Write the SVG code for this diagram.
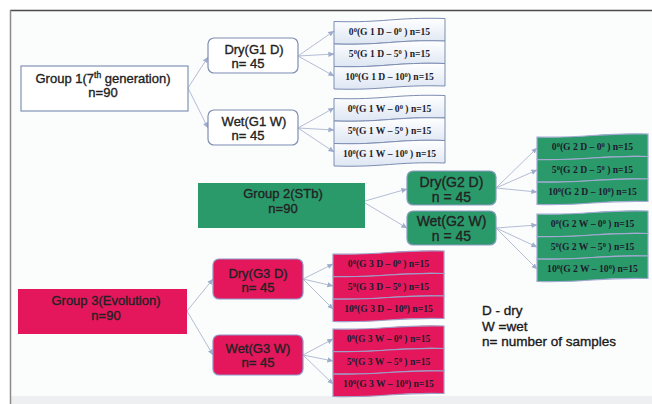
<svg xmlns="http://www.w3.org/2000/svg" width="652" height="404" viewBox="0 0 652 404">
<defs>
<marker id="ah" viewBox="0 0 8 8" refX="7.5" refY="4" markerWidth="6" markerHeight="6" orient="auto" markerUnits="userSpaceOnUse">
<path d="M0,0.5 L8,4 L0,7.5 Z" fill="#9fadcc"/>
</marker>
<linearGradient id="gb" x1="0" y1="0" x2="0" y2="1">
<stop offset="0" stop-color="#ffffff"/>
<stop offset="1" stop-color="#dde6f3"/>
</linearGradient>
<path id="row" d="M0,3 C50,4.5 61,-1.5 111,0 L111,22.5 C61,21 50,27 0,25.5 Z"/>
<style>
.t{font-family:"Liberation Sans",Arial,sans-serif;fill:#222;stroke:#222;stroke-width:0.35;text-anchor:middle;font-size:13px}
.b{font-size:14px}
.s{font-family:"Liberation Serif","Times New Roman",serif;font-weight:bold;font-size:9.6px;fill:#1c1c2c;text-anchor:middle}
.lg{font-family:"Liberation Sans",Arial,sans-serif;fill:#1a1a1a;stroke:#1a1a1a;stroke-width:0.35;font-size:13.5px}
.c{fill:none;stroke:#b3bdd6;stroke-width:1;marker-end:url(#ah)}
.rb{fill:url(#gb);stroke:#7d8db2;stroke-width:1}
.rg{fill:#2b9a6b;stroke:#a3a9d2;stroke-width:1.2}
.rp{fill:#e5175c;stroke:#a09cc6;stroke-width:1.2}
</style>
</defs>
<rect x="0" y="0" width="652" height="404" fill="#ffffff"/>
<rect x="11" y="11" width="641" height="387" fill="#fbfcfc"/>
<rect x="11" y="396" width="641" height="8" fill="#eeeff0"/>
<line x1="10" y1="10.5" x2="652" y2="10.5" stroke="#4a4a4a" stroke-width="1.5"/>
<line x1="10.5" y1="10" x2="10.5" y2="404" stroke="#8a8a8a" stroke-width="1.5"/>

<g id="connectors">
<path class="c" d="M188,88 L208,57"/>
<path class="c" d="M188,88 L208,128"/>
<path class="c" d="M298,56 L334,31"/>
<path class="c" d="M298,56 L334,54"/>
<path class="c" d="M298,56 L334,76"/>
<path class="c" d="M298,128 L334,108"/>
<path class="c" d="M298,128 L334,130"/>
<path class="c" d="M298,128 L334,152"/>
<path class="c" d="M365,201 L407,189"/>
<path class="c" d="M365,203 L407,228"/>
<path class="c" d="M496,188 L537,148"/>
<path class="c" d="M496,188 L537,170"/>
<path class="c" d="M496,188 L537,192"/>
<path class="c" d="M496,228 L537,225"/>
<path class="c" d="M496,228 L537,247"/>
<path class="c" d="M496,228 L537,269"/>
<path class="c" d="M187,311 L213,279"/>
<path class="c" d="M187,311 L213,355"/>
<path class="c" d="M303,279 L333,264"/>
<path class="c" d="M303,279 L333,286"/>
<path class="c" d="M303,279 L333,309"/>
<path class="c" d="M303,355 L333,339"/>
<path class="c" d="M303,355 L333,361"/>
<path class="c" d="M303,355 L333,384"/>
</g>

<g id="group1">
<rect x="21" y="66" width="167" height="45" fill="#ffffff" stroke="#8393b6" stroke-width="1.2"/>
<text class="t" x="103" y="82.5">Group 1(7<tspan font-size="8.5" dy="-5">th</tspan><tspan dy="5"> generation)</tspan></text>
<text class="t" x="103" y="97">n=90</text>
</g>
<g id="dry-g1">
<rect x="208" y="38" width="90" height="35" rx="6" fill="#ffffff" stroke="#7d8db2" stroke-width="1.2"/>
<text class="t" x="254" y="53.5">Dry(G1 D)</text>
<text class="t" x="248" y="68">n= 45</text>
</g>
<g id="wet-g1">
<rect x="208" y="110" width="90" height="35" rx="6" fill="#ffffff" stroke="#7d8db2" stroke-width="1.2"/>
<text class="t" x="254" y="125.5">Wet(G1 W)</text>
<text class="t" x="248" y="140">n= 45</text>
</g>
<g id="g1d-sub">
<use href="#row" class="rb" transform="translate(334,18.5)"/>
<use href="#row" class="rb" transform="translate(334,41)"/>
<use href="#row" class="rb" transform="translate(334,63.5)"/>
<text class="s" x="389.5" y="34.5">0<tspan font-size="6.5" dy="-3">0</tspan><tspan dy="3">(G 1 D – 0</tspan><tspan font-size="6.5" dy="-3">0</tspan><tspan dy="3"> ) n=15</tspan></text>
<text class="s" x="389.5" y="57">5<tspan font-size="6.5" dy="-3">0</tspan><tspan dy="3">(G 1 D – 5</tspan><tspan font-size="6.5" dy="-3">0</tspan><tspan dy="3"> ) n=15</tspan></text>
<text class="s" x="389.5" y="79.5">10<tspan font-size="6.5" dy="-3">0</tspan><tspan dy="3">(G 1 D – 10</tspan><tspan font-size="6.5" dy="-3">0</tspan><tspan dy="3">) n=15</tspan></text>
</g>
<g id="g1w-sub">
<use href="#row" class="rb" transform="translate(334,95.5)"/>
<use href="#row" class="rb" transform="translate(334,118)"/>
<use href="#row" class="rb" transform="translate(334,140.5)"/>
<text class="s" x="389.5" y="111.5">0<tspan font-size="6.5" dy="-3">0</tspan><tspan dy="3">(G 1 W – 0</tspan><tspan font-size="6.5" dy="-3">0</tspan><tspan dy="3"> ) n=15</tspan></text>
<text class="s" x="389.5" y="134">5<tspan font-size="6.5" dy="-3">0</tspan><tspan dy="3">(G 1 W – 5</tspan><tspan font-size="6.5" dy="-3">0</tspan><tspan dy="3"> ) n=15</tspan></text>
<text class="s" x="389.5" y="156.5">10<tspan font-size="6.5" dy="-3">0</tspan><tspan dy="3">(G 1 W – 10</tspan><tspan font-size="6.5" dy="-3">0</tspan><tspan dy="3"> ) n=15</tspan></text>
</g>

<g id="group2">
<rect x="198" y="183" width="167" height="45" fill="#2b9a6b"/>
<text class="t" x="283" y="198">Group 2(STb)</text>
<text class="t" x="283" y="213">n=90</text>
</g>
<g id="dry-g2">
<rect x="407" y="171" width="89" height="34" rx="6" fill="#2b9a6b" stroke="#8f9ac4" stroke-width="1.2"/>
<text class="t b" x="451.5" y="186.5">Dry(G2 D)</text>
<text class="t b" x="451.5" y="202">n = 45</text>
</g>
<g id="wet-g2">
<rect x="407" y="211" width="89" height="34" rx="6" fill="#2b9a6b" stroke="#8f9ac4" stroke-width="1.2"/>
<text class="t b" x="451.5" y="225.5">Wet(G2 W)</text>
<text class="t b" x="451.5" y="241">n = 45</text>
</g>
<g id="g2d-sub">
<use href="#row" class="rg" transform="translate(537,134)"/>
<use href="#row" class="rg" transform="translate(537,156.5)"/>
<use href="#row" class="rg" transform="translate(537,179)"/>
<text class="s" x="592.5" y="150">0<tspan font-size="6.5" dy="-3">0</tspan><tspan dy="3">(G 2 D – 0</tspan><tspan font-size="6.5" dy="-3">0</tspan><tspan dy="3"> ) n=15</tspan></text>
<text class="s" x="592.5" y="172.5">5<tspan font-size="6.5" dy="-3">0</tspan><tspan dy="3">(G 2 D – 5</tspan><tspan font-size="6.5" dy="-3">0</tspan><tspan dy="3"> ) n=15</tspan></text>
<text class="s" x="592.5" y="195">10<tspan font-size="6.5" dy="-3">0</tspan><tspan dy="3">(G 2 D – 10</tspan><tspan font-size="6.5" dy="-3">0</tspan><tspan dy="3">) n=15</tspan></text>
</g>
<g id="g2w-sub">
<use href="#row" class="rg" transform="translate(537,211)"/>
<use href="#row" class="rg" transform="translate(537,233.5)"/>
<use href="#row" class="rg" transform="translate(537,256)"/>
<text class="s" x="592.5" y="227">0<tspan font-size="6.5" dy="-3">0</tspan><tspan dy="3">(G 2 W – 0</tspan><tspan font-size="6.5" dy="-3">0</tspan><tspan dy="3"> ) n=15</tspan></text>
<text class="s" x="592.5" y="249.5">5<tspan font-size="6.5" dy="-3">0</tspan><tspan dy="3">(G 2 W – 5</tspan><tspan font-size="6.5" dy="-3">0</tspan><tspan dy="3"> ) n=15</tspan></text>
<text class="s" x="592.5" y="272">10<tspan font-size="6.5" dy="-3">0</tspan><tspan dy="3">(G 2 W – 10</tspan><tspan font-size="6.5" dy="-3">0</tspan><tspan dy="3">) n=15</tspan></text>
</g>

<g id="group3">
<rect x="18" y="289" width="169" height="45" fill="#e5175c"/>
<text class="t" x="106" y="305">Group 3(Evolution)</text>
<text class="t" x="106" y="320">n=90</text>
</g>
<g id="dry-g3">
<rect x="213" y="259" width="90" height="40" rx="6" fill="#e5175c" stroke="#8f96c6" stroke-width="1.2"/>
<text class="t" x="258" y="277.5">Dry(G3 D)</text>
<text class="t" x="258" y="292">n= 45</text>
</g>
<g id="wet-g3">
<rect x="213" y="335" width="90" height="40" rx="6" fill="#e5175c" stroke="#8f96c6" stroke-width="1.2"/>
<text class="t" x="258" y="352.5">Wet(G3 W)</text>
<text class="t" x="258" y="367">n= 45</text>
</g>
<g id="g3d-sub">
<use href="#row" class="rp" transform="translate(333,251)"/>
<use href="#row" class="rp" transform="translate(333,273.5)"/>
<use href="#row" class="rp" transform="translate(333,296)"/>
<text class="s" x="388.5" y="267">0<tspan font-size="6.5" dy="-3">0</tspan><tspan dy="3">(G 3 D – 0</tspan><tspan font-size="6.5" dy="-3">0</tspan><tspan dy="3"> ) n=15</tspan></text>
<text class="s" x="388.5" y="289.5">5<tspan font-size="6.5" dy="-3">0</tspan><tspan dy="3">(G 3 D – 5</tspan><tspan font-size="6.5" dy="-3">0</tspan><tspan dy="3"> ) n=15</tspan></text>
<text class="s" x="388.5" y="312">10<tspan font-size="6.5" dy="-3">0</tspan><tspan dy="3">(G 3 D – 10</tspan><tspan font-size="6.5" dy="-3">0</tspan><tspan dy="3">) n=15</tspan></text>
</g>
<g id="g3w-sub">
<use href="#row" class="rp" transform="translate(333,326)"/>
<use href="#row" class="rp" transform="translate(333,348.5)"/>
<use href="#row" class="rp" transform="translate(333,371)"/>
<text class="s" x="388.5" y="342">0<tspan font-size="6.5" dy="-3">0</tspan><tspan dy="3">(G 3 W – 0</tspan><tspan font-size="6.5" dy="-3">0</tspan><tspan dy="3"> ) n=15</tspan></text>
<text class="s" x="388.5" y="364.5">5<tspan font-size="6.5" dy="-3">0</tspan><tspan dy="3">(G 3 W – 5</tspan><tspan font-size="6.5" dy="-3">0</tspan><tspan dy="3"> ) n=15</tspan></text>
<text class="s" x="388.5" y="387">10<tspan font-size="6.5" dy="-3">0</tspan><tspan dy="3">(G 3 W – 10</tspan><tspan font-size="6.5" dy="-3">0</tspan><tspan dy="3">) n=15</tspan></text>
</g>

<g id="legend">
<text class="lg" x="482" y="315">D - dry</text>
<text class="lg" x="482" y="330.5">W =wet</text>
<text class="lg" x="482" y="346">n= number of samples</text>
</g>
</svg>
